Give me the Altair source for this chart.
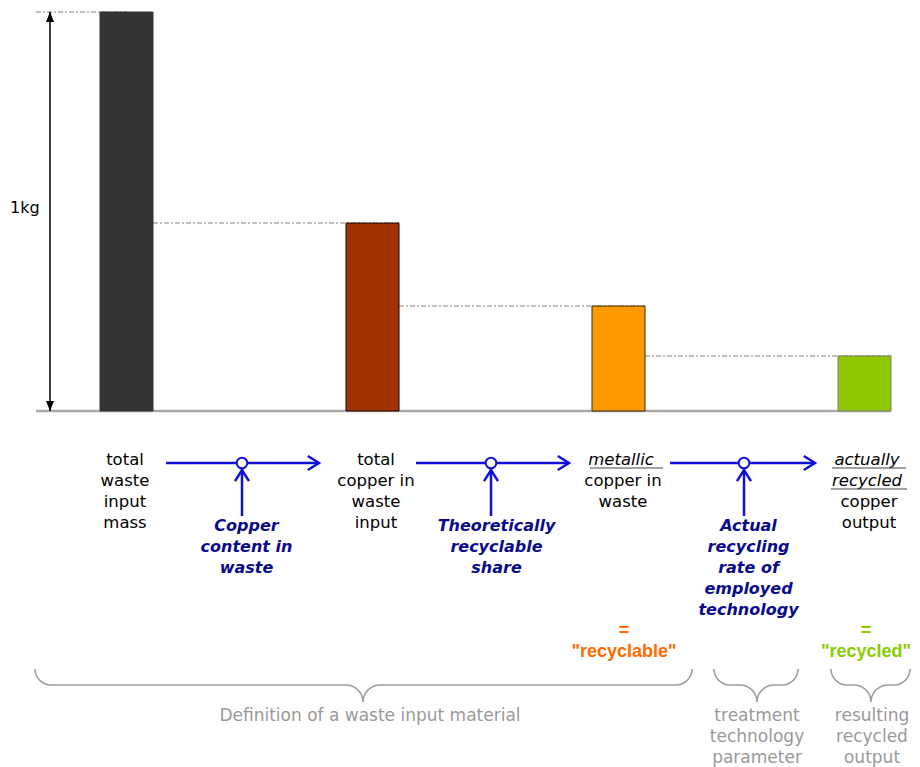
import math
import altair as alt
import pandas as pd

# ------------------------------------------------------------------ data
stages = ["total waste input mass", "total copper in waste input",
          "metallic copper in waste", "actually recycled copper output"]
mass_kg = [1.0, 0.471, 0.263, 0.138]
unit_label = "1kg"

stage_lines = [
    ["total", "waste", "input", "mass"],
    ["total", "copper in", "waste", "input"],
    ["metallic", "copper in", "waste"],
    ["actually", "recycled", "copper", "output"],
]
underlined = [(2, 0), (3, 0), (3, 1)]          # (stage, line) in italic + underline

parameter_lines = [
    ["Copper", "content in", "waste"],
    ["Theoretically", "recyclable", "share"],
    ["Actual", "recycling", "rate of", "employed", "technology"],
]

status_lines = [["=", "\"recyclable\""], ["=", "\"recycled\""]]

group_lines = [
    ["Definition of a waste input material"],
    ["treatment", "technology", "parameter"],
    ["resulting", "recycled", "output"],
]

# ------------------------------------------------------------------ styles
bar_colors = ["#333333", "#a03300", "#ff9900", "#8fc800"]
bar_strokes = ["#333333", "#1a0800", "#3a2608", "#7a7a7a"]
status_colors = ["#ff6a00", "#88cc00"]
flow_blue = "#1010d8"
param_blue = "#0a0a8c"
grey_text = "#999999"
FONT = "DejaVu Sans"

# ------------------------------------------------------------------ layout (page pixels)
W, H = 904, 759
BASE_PX, KG_PX = 411, 399
BAR0_PX, STEP_PX, BAR_W = 126.5, 246, 53


def X(px):
    return (px - BAR0_PX) / STEP_PX


def Y(py):
    return (BASE_PX - py) / KG_PX


HALF = BAR_W / 2 / STEP_PX
xs = alt.Scale(domain=[X(8), X(8 + W)], nice=False, zero=False)
ys = alt.Scale(domain=[Y(8 + H), Y(8)], nice=False, zero=False)
XE = lambda f: alt.X(f, type="quantitative", scale=xs, axis=None)
YE = lambda f: alt.Y(f, type="quantitative", scale=ys, axis=None)

label_cx = [125, 376, 623, 869]
row0, row_h = 460, 21
param_cx = [246.5, 496.5, 748.5]
param_row0 = 526
flow_start = [166, 416, 670]
flow_node = [242, 491, 744]
flow_end = [319, 569, 815]
flow_y = 463
node_r = 6
feed_bottom = 516
status_cx = [624, 866]
status_row0 = 631
underline_px = {(2, 0): (590, 663), (3, 0): (832, 906), (3, 1): (831, 907)}
brace_px = [(35, 692, 363), (714, 798, 757), (831, 910, 871)]
brace_top, brace_mid, brace_tip = 669, 685, 702
group_cx = [370, 757, 872]
group_row0 = 716
arrow_px = 50
ref_left_px = 36
unit_px = (10, 208)

# ------------------------------------------------------------------ layers
n = len(stages)
bars = pd.DataFrame({
    "stage": stages,
    "x": [i - HALF for i in range(n)],
    "x2": [i + HALF for i in range(n)],
    "v": mass_kg,
    "zero": [0.0] * n,
})
bar_layer = alt.Chart(bars).mark_rect(strokeWidth=1).encode(
    x=XE("x"), x2="x2", y=YE("v"), y2="zero",
    color=alt.Color("stage:N", scale=alt.Scale(domain=stages, range=bar_colors), legend=None),
    stroke=alt.Stroke("stage:N", scale=alt.Scale(domain=stages, range=bar_strokes), legend=None),
)

# dash-dot guide lines carrying each level to the next bar
guides = pd.DataFrame({
    "x": [X(ref_left_px)] + [i + HALF for i in range(n - 1)],
    "x2": [0.0] + [i + 1 + HALF for i in range(n - 1)],
    "y": mass_kg,
})
guide_layer = alt.Chart(guides).mark_rule(
    color="#aaaaaa", strokeWidth=1.5, strokeDash=[5, 2, 2, 2]
).encode(x=XE("x"), x2="x2", y=YE("y"))

baseline = alt.Chart(pd.DataFrame({"x": [X(ref_left_px)], "x2": [n - 1 + HALF], "y": [0.0]})).mark_rule(
    color="#aaaaaa", strokeWidth=2.5
).encode(x=XE("x"), x2="x2", y=YE("y"))

# double arrow (1 kg)
arr = pd.DataFrame({"x": [X(arrow_px)], "y": [0.0], "y2": [mass_kg[0]]})
arrow_line = alt.Chart(arr).mark_rule(color="black", strokeWidth=1.5).encode(
    x=XE("x"), y=YE("y"), y2="y2")
head_up = alt.Chart(pd.DataFrame({"x": [X(arrow_px)], "y": [mass_kg[0]]})).mark_point(
    shape="M0,0L-0.8,2L0.8,2Z", size=100, filled=True, color="black", opacity=1
).encode(x=XE("x"), y=YE("y"))
head_down = alt.Chart(pd.DataFrame({"x": [X(arrow_px)], "y": [0.0]})).mark_point(
    shape="M0,0L-0.8,-2L0.8,-2Z", size=100, filled=True, color="black", opacity=1
).encode(x=XE("x"), y=YE("y"))
unit_layer = alt.Chart(pd.DataFrame({"x": [X(unit_px[0])], "y": [Y(unit_px[1])], "t": [unit_label]})).mark_text(
    align="left", baseline="middle", font=FONT, fontSize=16, color="black"
).encode(x=XE("x"), y=YE("y"), text="t:N")

# flow arrows
flow = pd.DataFrame({
    "x": [X(p) for p in flow_start], "x2": [X(p) for p in flow_end],
    "y": [Y(flow_y)] * 3,
})
flow_layer = alt.Chart(flow).mark_rule(color=flow_blue, strokeWidth=2.5).encode(
    x=XE("x"), x2="x2", y=YE("y"))
feed = pd.DataFrame({
    "x": [X(p) for p in flow_node],
    "y": [Y(feed_bottom)] * 3, "y2": [Y(flow_y + node_r)] * 3,
})
feed_layer = alt.Chart(feed).mark_rule(color=flow_blue, strokeWidth=2.5).encode(
    x=XE("x"), y=YE("y"), y2="y2")
chev_r = pd.DataFrame({"x": [X(p) for p in flow_end], "y": [Y(flow_y)] * 3})
chev_r_layer = alt.Chart(chev_r).mark_point(
    shape="M-1.6,-1L0,0L-1.6,1", size=196, filled=False, color=flow_blue, strokeWidth=2.5, opacity=1
).encode(x=XE("x"), y=YE("y"))
chev_u = pd.DataFrame({"x": [X(p) for p in flow_node], "y": [Y(flow_y + node_r + 1)] * 3})
chev_u_layer = alt.Chart(chev_u).mark_point(
    shape="M-1,1.6L0,0L1,1.6", size=196, filled=False, color=flow_blue, strokeWidth=2.5, opacity=1
).encode(x=XE("x"), y=YE("y"))
nodes = pd.DataFrame({"x": [X(p) for p in flow_node], "y": [Y(flow_y)] * 3})
node_layer = alt.Chart(nodes).mark_point(
    shape="circle", size=math.pi * node_r ** 2, filled=False, fill="white", fillOpacity=1,
    color=flow_blue, strokeWidth=2, opacity=1
).encode(x=XE("x"), y=YE("y"))

# stage labels
rows_plain, rows_ital = [], []
for i, lines in enumerate(stage_lines):
    for k, t in enumerate(lines):
        rec = {"x": X(label_cx[i]), "y": Y(row0 + row_h * k), "t": t}
        (rows_ital if (i, k) in underlined else rows_plain).append(rec)
stage_text = alt.Chart(pd.DataFrame(rows_plain)).mark_text(
    font=FONT, fontSize=16.5, color="black", baseline="middle"
).encode(x=XE("x"), y=YE("y"), text="t:N")
stage_ital = alt.Chart(pd.DataFrame(rows_ital)).mark_text(
    font=FONT, fontSize=16.5, color="black", baseline="middle", fontStyle="italic", dx=-2
).encode(x=XE("x"), y=YE("y"), text="t:N")
ul = pd.DataFrame([
    {"x": X(a), "x2": X(b), "y": Y(row0 + row_h * k + 8)}
    for (i, k), (a, b) in underline_px.items()
])
ul_layer = alt.Chart(ul).mark_rule(color="#444444", strokeWidth=1).encode(
    x=XE("x"), x2="x2", y=YE("y"))

# parameter labels
prow = []
for j, lines in enumerate(parameter_lines):
    for k, t in enumerate(lines):
        prow.append({"x": X(param_cx[j]), "y": Y(param_row0 + row_h * k), "t": t})
param_layer = alt.Chart(pd.DataFrame(prow)).mark_text(
    font=FONT, fontSize=16, fontWeight="bold", fontStyle="italic", color=param_blue, baseline="middle"
).encode(x=XE("x"), y=YE("y"), text="t:N")

# status labels ("recyclable" / "recycled")
status_layers = []
for j, lines in enumerate(status_lines):
    srow = [{"x": X(status_cx[j]), "y": Y(status_row0 + row_h * k), "t": t} for k, t in enumerate(lines)]
    status_layers.append(alt.Chart(pd.DataFrame(srow)).mark_text(
        font="Liberation Sans", fontSize=18, fontWeight="bold", baseline="middle", color=status_colors[j]
    ).encode(x=XE("x"), y=YE("y"), text="t:N"))


# braces
def arc(cx, cy, r, t0, t1, steps=10):
    return [(cx + r * math.cos(t0 + (t1 - t0) * s / steps),
             cy + r * math.sin(t0 + (t1 - t0) * s / steps)) for s in range(steps + 1)]


brows = []
r1 = brace_mid - brace_top
r2 = brace_tip - brace_mid
for b, (x0, x1, xm) in enumerate(brace_px):
    pts = (arc(x0 + r1, brace_top, r1, math.pi, math.pi / 2)
           + arc(xm - r2, brace_mid + r2, r2, -math.pi / 2, 0)
           + arc(xm + r2, brace_mid + r2, r2, math.pi, 1.5 * math.pi)
           + arc(x1 - r1, brace_top, r1, math.pi / 2, 0))
    for k, (px, py) in enumerate(pts):
        brows.append({"b": b, "k": k, "x": X(px), "y": Y(py)})
brace_layer = alt.Chart(pd.DataFrame(brows)).mark_line(color="#999999", strokeWidth=1.5).encode(
    x=XE("x"), y=YE("y"), detail="b:N", order="k:Q")

grow = []
for j, lines in enumerate(group_lines):
    for k, t in enumerate(lines):
        grow.append({"x": X(group_cx[j]), "y": Y(group_row0 + row_h * k), "t": t})
group_layer = alt.Chart(pd.DataFrame(grow)).mark_text(
    font=FONT, fontSize=17, color=grey_text, baseline="middle"
).encode(x=XE("x"), y=YE("y"), text="t:N")

chart = alt.layer(
    guide_layer, baseline, bar_layer, arrow_line, head_up, head_down, unit_layer,
    flow_layer, feed_layer, chev_r_layer, chev_u_layer, node_layer,
    stage_text, stage_ital, ul_layer, param_layer, *status_layers, brace_layer, group_layer,
).properties(width=W, height=H, padding=0, autosize=alt.AutoSizeParams(type="none")).configure_view(stroke=None)

chart.save("out.html", embed_options={"renderer": "svg", "actions": False})
